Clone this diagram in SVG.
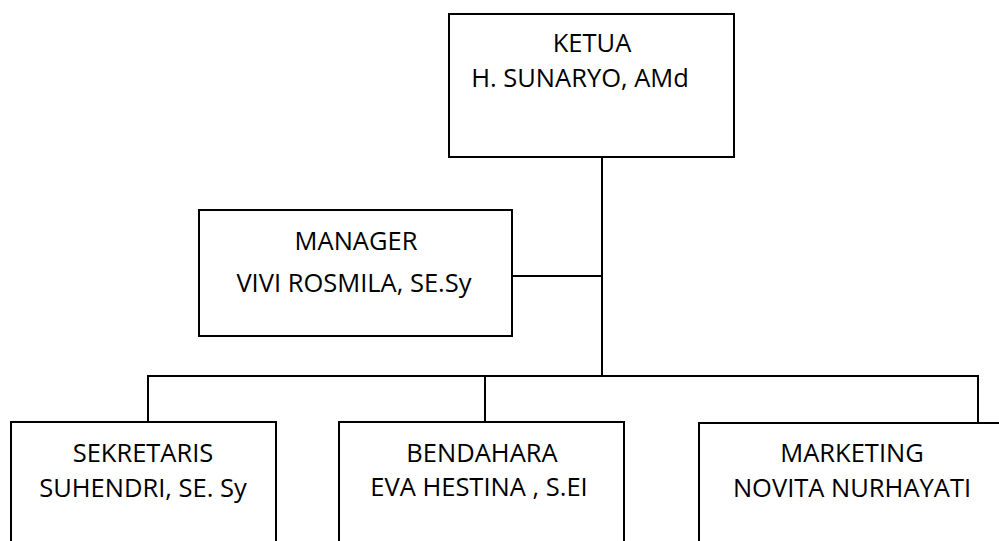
<svg xmlns="http://www.w3.org/2000/svg" width="999" height="541" viewBox="0 0 999 541">
<style>
.box{fill:#fff;stroke:#000;stroke-width:2}
.ln{fill:none;stroke:#000;stroke-width:2}
text{font-family:"Open Sans","Liberation Sans",sans-serif;font-size:25.5px;fill:#000;text-anchor:middle}
</style>
<rect width="999" height="541" fill="#fff"/>
<g id="connectors">
<line class="ln" x1="602" y1="154" x2="602" y2="376"/>
<line class="ln" x1="512" y1="276" x2="602" y2="276"/>
<polyline class="ln" points="148,422 148,376 978,376 978,423"/>
<line class="ln" x1="485" y1="376" x2="485" y2="422"/>
</g>
<g id="ketua">
<rect class="box" x="449" y="14" width="285" height="143"/>
<text x="592" y="52">KETUA</text>
<text x="580" y="87">H. SUNARYO, AMd</text>
</g>
<g id="manager">
<rect class="box" x="199" y="210" width="313" height="126"/>
<text x="356" y="250">MANAGER</text>
<text x="354" y="292">VIVI ROSMILA, SE.Sy</text>
</g>
<g id="sekretaris">
<rect class="box" x="11" y="422" width="265" height="140"/>
<text x="143" y="462">SEKRETARIS</text>
<text x="143" y="497">SUHENDRI, SE. Sy</text>
</g>
<g id="bendahara">
<rect class="box" x="339" y="422" width="285" height="140"/>
<text x="482" y="462">BENDAHARA</text>
<text x="479" y="496">EVA HESTINA , S.EI</text>
</g>
<g id="marketing">
<rect class="box" x="699" y="423" width="320" height="140"/>
<text x="852" y="462">MARKETING</text>
<text x="852" y="497">NOVITA NURHAYATI</text>
</g>
</svg>
